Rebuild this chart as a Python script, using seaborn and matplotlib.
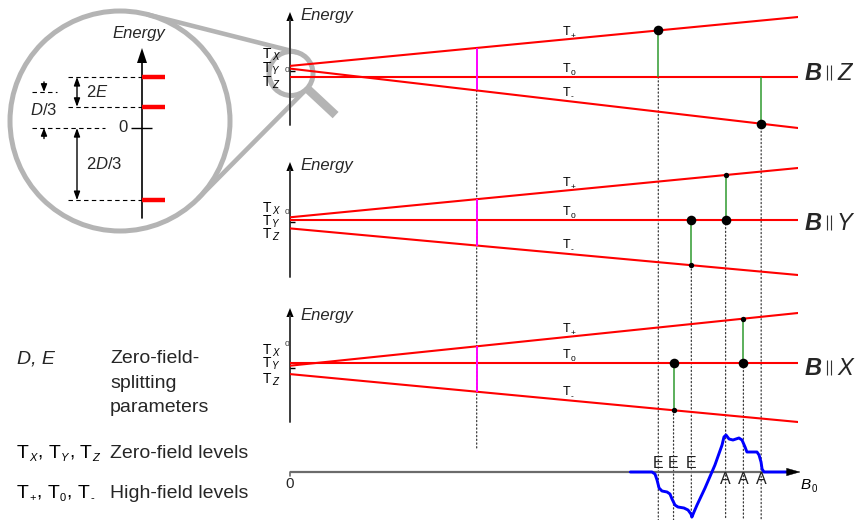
import numpy as np
import pandas as pd
import matplotlib
matplotlib.use("Agg")
import matplotlib.pyplot as plt
from matplotlib.patches import Circle, ConnectionPatch, Polygon
import seaborn as sns

sns.set_style("white")
plt.rcParams["font.family"] = ["Liberation Sans", "DejaVu Sans"]
plt.rcParams["mathtext.fontset"] = "custom"
plt.rcParams["mathtext.rm"] = "Liberation Sans"
plt.rcParams["mathtext.it"] = "Liberation Sans:italic"
plt.rcParams["mathtext.bf"] = "Liberation Sans:bold"

# ---------------------------------------------------------------- data
field_max = 400.0                       # mT, end of the field axis
level_names = ["T+", "T0", "T-"]
zero_field_names = ["X", "Y", "Z"]
zero_field_levels = [4.6, 1.9, -6.5]    # T_X, T_Y, T_Z (arb. energy units)

orientations = ["Z", "Y", "X"]          # direction of B for each panel
t_plus_start = [4.6, 4.6, 1.9]
t_plus_end = [53.5, 53.9, 54.6]
t_zero = [-6.5, 1.9, 4.6]
t_minus_start = [1.9, -6.5, -6.5]
t_minus_end = [-57.5, -53.1, -54.4]

half_field = 147.0                      # mT, ΔMs = 2 line
transition_fields = [[290, 371], [316, 343], [302, 357]]
transition_upper = [["T+", "T0"], ["T0", "T+"], ["T0", "T+"]]
transition_lower = [["T0", "T-"], ["T-", "T0"], ["T-", "T0"]]

peak_fields = [290, 302, 316, 343, 357, 371]
peak_labels = ["E", "E", "E", "A", "A", "A"]

spec_field = [268, 285, 287.4, 289, 290.6, 292.9, 296.9, 299.2, 300.8, 303.1,
              305.5, 310.2, 313.4, 315.7, 316.5, 318.1, 320.5, 326.8, 334.6,
              340.2, 341.7, 343.3, 345.7, 348.8, 353.5, 355.9, 358.3, 359.8,
              363.8, 367.7, 369.3, 370.9, 371.7, 373.2, 391]
spec_signal = [0, 0, -2, -8, -16, -19, -20, -22, -27, -33, -35, -36, -38, -42,
               -45, -40, -33, -16, 7, 27, 35, 37, 33, 32, 34, 32, 25, 20, 20,
               20, 17, 10, 3, 0, 0]

# ---------------------------------------------------------------- layout
W, H = 860.0, 520.0
fig = plt.figure(figsize=(8.6, 5.2), dpi=100)
renderer = fig.canvas.get_renderer()


def frac_rect(x0, y0, x1, y1):
    return [x0 / W, 1 - y1 / H, (x1 - x0) / W, (y1 - y0) / H]


bg = fig.add_axes(frac_rect(0, 0, W, H), zorder=-5)
bg.set_xlim(0, W)
bg.set_ylim(H, 0)
bg.set_axis_off()

RED = "#ff0000"
GREEN = "#2f9a2f"
MAGENTA = "#ff00ff"
GREY = "#b4b4b4"
AXIS = "#3c3c3c"


def head(ax, tip, direction, length, half_w, color="black"):
    x, y = tip
    if direction == "up":
        pts = [(x, y), (x - half_w, y + length), (x + half_w, y + length)]
    else:
        pts = [(x, y), (x - length, y - half_w), (x - length, y + half_w)]
    ax.add_patch(Polygon(pts, closed=True, color=color, lw=0))


def compose(ax, xy, pieces, lift=0.0, color="black"):
    """Write text pieces one after another (for small sub-scripts).

    pieces: (text, fontsize, style, drop_px, gap_px)
    """
    dx = 0.0
    for txt, size, style, drop, gap in pieces:
        t = ax.annotate(txt, xy=xy, xytext=(dx, lift - drop),
                        textcoords="offset pixels", fontsize=size, style=style,
                        va="baseline", ha="left", color=color,
                        annotation_clip=False)
        dx += t.get_window_extent(renderer).width + gap


def t_pieces(sub, size, sub_size, sub_style, drop, comma=False, gap=0.5):
    p = [("T", size, "normal", 0, gap), (sub, sub_size, sub_style, drop, 0.6)]
    if comma:
        p.append((",", size, "normal", 0, size * 0.42))
    return p


# ---------------------------------------------------------------- magnifier
c1 = np.array([120.0, 121.0]); r1 = 110.0
c2 = np.array([291.0, 73.5]); r2 = 22.0
d = c2 - c1
theta = np.arctan2(d[1], d[0])
alpha = np.arccos((r1 - r2) / np.hypot(*d))
for s in (1, -1):
    n = np.array([np.cos(theta + s * alpha), np.sin(theta + s * alpha)])
    p1, p2 = c1 + r1 * n, c2 + r2 * n
    bg.plot([p1[0], p2[0]], [p1[1], p2[1]], color=GREY, lw=3.3,
            solid_capstyle="round")
bg.add_patch(Circle(c1, r1, fill=False, ec=GREY, lw=3.6))
bg.add_patch(Circle(c2, r2, fill=False, ec=GREY, lw=3.6))
u = np.array([np.cos(np.deg2rad(43)), np.sin(np.deg2rad(43))])
h0, h1 = c2 + (r2 + 1) * u, c2 + 61 * u
bg.plot([h0[0], h1[0]], [h0[1], h1[1]], color=GREY, lw=6.2,
        solid_capstyle="butt")

# ---------------------------------------------------------------- zoomed level scheme
inset_zero_px, inset_scale = 128.0, 11.1
ins = fig.add_axes(frac_rect(0, 30, 240, 230))
ins.set_xlim(0, 240)
ins.set_ylim((inset_zero_px - 230) / inset_scale, (inset_zero_px - 30) / inset_scale)
ins.set_axis_off()

bg.plot([142, 142], [218, 60], color="black", lw=1.2)
head(bg, (142, 48), "up", 15, 5)
bg.text(112, 38, "Energy", style="italic", fontsize=12, va="baseline")

t_x, t_y, t_z = zero_field_levels
d_third = (t_x + t_y) / 2
dash = (0, (4, 3))
ins.hlines(zero_field_levels, 68, 142, color="black", lw=0.8, linestyles=[dash])
ins.hlines(0, 32, 105, color="black", lw=0.8, linestyles=[dash])
ins.hlines(d_third, 32, 57, color="black", lw=0.8, linestyles=[dash])
ins.hlines(0, 131, 152, color="black", lw=1.0)
ins.hlines(zero_field_levels, 142, 165, color=RED, lw=3.2)
ins.text(128, 0, "0", ha="right", va="center", fontsize=12)

arr2 = dict(arrowstyle="<|-|>,head_length=0.5,head_width=0.18",
            mutation_scale=10, color="black", lw=1.0, shrinkA=0, shrinkB=0)
ins.annotate("", xy=(77, t_y), xytext=(77, t_x), arrowprops=arr2)
ins.annotate("", xy=(77, t_z), xytext=(77, 0), arrowprops=arr2)
arr1 = dict(arrowstyle="-|>,head_length=0.45,head_width=0.18",
            mutation_scale=10, color="black", lw=1.0, shrinkA=0, shrinkB=0)
ins.annotate("", xy=(44, d_third), xytext=(44, d_third + 0.9), arrowprops=arr1)
ins.annotate("", xy=(44, 0), xytext=(44, -0.95), arrowprops=arr1)
ins.text(86, (t_x + t_y) / 2, "2$E$", va="center", fontsize=12)
ins.text(30, d_third / 2, "$D$/3", va="center", fontsize=12)
ins.text(86, t_z / 2, "2$D$/3", va="center", fontsize=12)

# ---------------------------------------------------------------- legend text
fs = 14
bg.text(17, 363, "D, E", style="italic", fontsize=fs, va="baseline")
bg.text(110, 363, "Zero-field-", fontsize=fs, va="baseline")
bg.text(110, 388, "splitting", fontsize=fs, va="baseline")
bg.text(110, 412, "parameters", fontsize=fs, va="baseline")
compose(bg, (17, 458),
        t_pieces("X", fs, 8, "italic", 3, comma=True)
        + t_pieces("Y", fs, 8, "italic", 3, comma=True)
        + t_pieces("Z", fs, 8, "italic", 3))
bg.text(110, 458, "Zero-field levels", fontsize=fs, va="baseline")
compose(bg, (17, 498),
        t_pieces("+", fs, 8, "normal", 3, comma=True)
        + t_pieces("0", fs, 8, "normal", 3, comma=True)
        + t_pieces("-", fs, 8, "normal", 3))
bg.text(110, 498, "High-field levels", fontsize=fs, va="baseline")

# ---------------------------------------------------------------- spectrum axis
spec_zero_px = 472.0
spec = fig.add_axes(frac_rect(290, 425, 798, 520))
spec.plot([0, 392], [0, 0], color="#6b6b6b", lw=1.6, zorder=1)
sns.lineplot(x=spec_field, y=spec_signal, sort=False, estimator=None,
             color="#0000ff", lw=2.1, ax=spec, zorder=3)
spec.lines[-1].set_solid_joinstyle("round")
spec.annotate("", xy=(402, 0), xytext=(390, 0), annotation_clip=False,
              arrowprops=dict(arrowstyle="-|>,head_length=0.95,head_width=0.27",
                              mutation_scale=10, color="black", lw=0.3,
                              shrinkA=0, shrinkB=0))
spec.set_xlim(0, field_max)
spec.set_ylim(spec_zero_px - 520, spec_zero_px - 425)
spec.set_axis_off()
for b, lab in zip(peak_fields, peak_labels):
    spec.text(b, 9 if lab == "E" else -8, lab, ha="center", va="center",
              fontsize=11.5, color="#222222")
bg.plot([290, 290], [472, 476], color="#6b6b6b", lw=1.2)
bg.text(290, 488, "0", ha="center", va="baseline", fontsize=11)
compose(bg, (801, 489), [("B", 11, "italic", 0, 0.3), ("0", 7, "normal", 3, 0)])

# ---------------------------------------------------------------- level panels
panel_zero_px = [70.5, 221.9, 367.6]
panel_rows = [(2, 140), (145, 290), (292, 432)]
axis_tops = [12, 162, 308]
axis_bottoms = [125, 277, 422]
energy_baselines = [20, 170, 320]
tlabel_baselines = [[57.5, 71.5, 86.5], [212, 225, 238], [354, 367, 383]]
zero_label_y = [70, 212, 345]
orient_baselines = [80, 230, 375]
label_field = 215.0
subs = {"T+": "+", "T0": "0", "T-": "-"}

dot_kw = dict(color="#3a3a3a", lw=0.9, linestyle=(0, (1, 2)), zorder=-1,
              annotation_clip=False)

for i, orient in enumerate(orientations):
    zero = panel_zero_px[i]
    r0, r1_ = panel_rows[i]
    ax = fig.add_axes(frac_rect(290, r0, 798, r1_))
    ax.set_xlim(0, field_max)
    ax.set_ylim(zero - r1_, zero - r0)

    starts = {"T+": t_plus_start[i], "T0": t_zero[i], "T-": t_minus_start[i]}
    ends = {"T+": t_plus_end[i], "T0": t_zero[i], "T-": t_minus_end[i]}
    df = pd.DataFrame({
        "field": [0.0, field_max] * 3,
        "energy": sum(([starts[k], ends[k]] for k in level_names), []),
        "level": sum(([k, k] for k in level_names), []),
    })
    sns.lineplot(data=df, x="field", y="energy", units="level",
                 estimator=None, color=RED, lw=1.5, ax=ax, zorder=2)

    def level_at(name, b):
        return float(np.interp(b, [0.0, field_max], [starts[name], ends[name]]))

    # half-field transition
    ax.vlines(half_field, level_at("T-", half_field), level_at("T+", half_field),
              color=MAGENTA, lw=1.4, zorder=3)
    if i == 0:
        con = ConnectionPatch(xyA=(half_field, level_at("T-", half_field)),
                              coordsA="data", axesA=ax,
                              xyB=(half_field, spec_zero_px - 450),
                              coordsB="data", axesB=spec, **dot_kw)
        fig.add_artist(con)

    # allowed transitions
    for b, up, lo in zip(transition_fields[i], transition_upper[i],
                         transition_lower[i]):
        e_up, e_lo = level_at(up, b), level_at(lo, b)
        ax.vlines(b, e_lo, e_up, color=GREEN, lw=1.1, zorder=3)
        other = up if up != "T0" else lo
        if orient == "Z":
            sns.scatterplot(x=[b], y=[level_at(other, b)], s=48, color="black",
                            linewidth=0, ax=ax, zorder=5)
        else:
            sns.scatterplot(x=[b], y=[level_at("T0", b)], s=48, color="black",
                            linewidth=0, ax=ax, zorder=5)
            sns.scatterplot(x=[b], y=[level_at(other, b)], s=15, color="black",
                            linewidth=0, ax=ax, zorder=5)
        con = ConnectionPatch(xyA=(b, e_lo), coordsA="data", axesA=ax,
                              xyB=(b, spec_zero_px - 520), coordsB="data",
                              axesB=spec, **dot_kw)
        fig.add_artist(con)

    # level names along the lines
    for name in level_names:
        compose(ax, (label_field, level_at(name, label_field)),
                [("T", 9, "normal", 0, 0.3), (subs[name], 6, "normal", 3, 0)],
                lift=5)

    ax.hlines(0, 0, 4, color="black", lw=1.0, zorder=4)
    ax.set_xlim(0, field_max)
    ax.set_ylim(zero - r1_, zero - r0)
    ax.set_axis_off()

    # energy axis
    bg.plot([290, 290], [axis_bottoms[i], axis_tops[i] + 8], color=AXIS, lw=1.4)
    head(bg, (290, axis_tops[i]), "up", 9, 3.6)
    bg.text(300, energy_baselines[i], "Energy", style="italic", fontsize=12,
            va="baseline")
    bg.text(287, zero_label_y[i], "0", fontsize=6, ha="center", va="center",
            color="#333333")
    for name, yb in zip(zero_field_names, tlabel_baselines[i]):
        compose(bg, (263, yb), [("T", 10, "normal", 0, 0.3),
                                (name, 7, "italic", 2, 0)])

    # field direction label
    yb = orient_baselines[i]
    bg.text(805, yb, "B", fontsize=17, weight="bold", style="italic", va="baseline")
    bg.vlines([826.5, 830.5], yb - 15, yb, color="#333333", lw=0.8)
    bg.text(837, yb, orient, fontsize=17, style="italic", va="baseline")

fig.savefig("out.png", dpi=100)
